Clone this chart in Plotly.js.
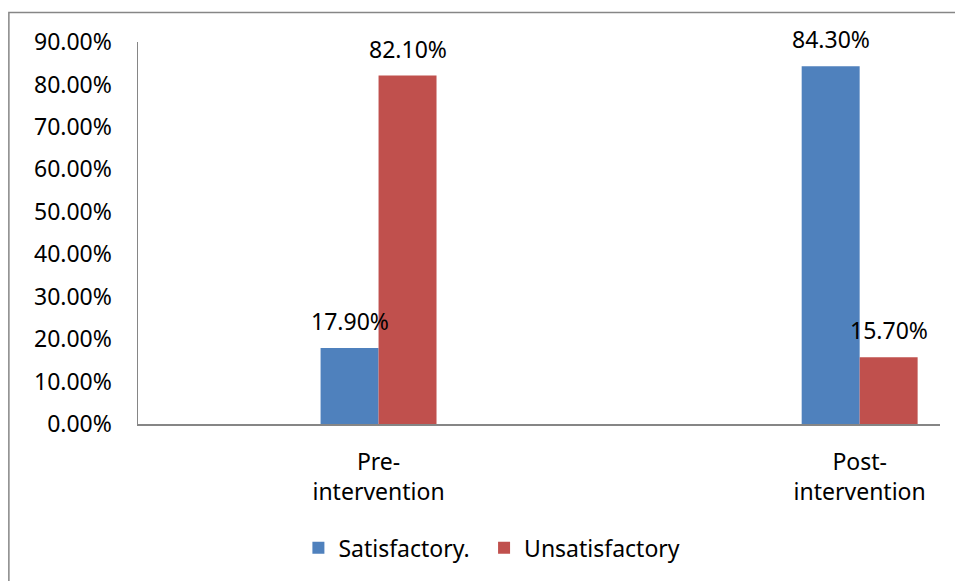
<!DOCTYPE html>
<html>
<head>
<meta charset="utf-8">
<script src="https://cdn.plot.ly/plotly-3.0.1.min.js"></script>
<style>html,body{margin:0;padding:0;background:#fff;}#chart{width:955px;height:581px;}</style>
</head>
<body>
<div id="chart"></div>
<script>
const categories = ["Pre-intervention", "Post-intervention"];
const tickLabels = ["Pre-<br>intervention", "Post-<br>intervention"];
const seriesNames = ["Satisfactory.", "Unsatisfactory"];
const satisfactory = [0.179, 0.843];
const unsatisfactory = [0.821, 0.157];
const colors = ["#4F81BD", "#C0504D"];

const font = "Noto Sans, Open Sans, sans-serif";
const FS = 23;
const series = [satisfactory, unsatisfactory];
const legendIds = ["legend", "legend2"];

const traces = series.map((vals, i) => ({
  type: "bar", name: seriesNames[i], x: categories, y: vals,
  marker: {color: colors[i]}, hoverinfo: "skip", legend: legendIds[i]
}));

const annotations = [];
series.forEach((vals, i) => {
  vals.forEach((v, j) => {
    annotations.push({
      x: categories[j], y: v, xref: "x", yref: "y",
      text: (v * 100).toFixed(2) + "%", showarrow: false,
      xshift: (i - 0.5) * 58, yshift: 27, yanchor: "middle", xanchor: "center",
      font: {size: FS, family: font, color: "#000"}
    });
  });
});

const legendBase = {orientation: "h", y: -0.324, yanchor: "middle", xanchor: "left",
                    font: {size: FS, family: font}, itemwidth: 30, bgcolor: "rgba(0,0,0,0)"};

const layout = {
  width: 955, height: 581,
  margin: {l: 138, r: 15, t: 41.5, b: 157},
  paper_bgcolor: "#fff", plot_bgcolor: "#fff",
  font: {family: font, size: FS, color: "#000"},
  barmode: "group", bargap: 0.759, bargroupgap: 0,
  showlegend: true,
  legend: Object.assign({}, legendBase, {x: 0.2}),
  legend2: Object.assign({}, legendBase, {x: 0.4315}),
  xaxis: {type: "category", range: [-0.5, 1.167], tickvals: categories, ticktext: tickLabels,
          showline: true, linecolor: "#868686", linewidth: 1.5, ticks: "", showgrid: false,
          zeroline: false, ticklabelstandoff: 17, fixedrange: true},
  yaxis: {range: [0, 0.9], dtick: 0.1, tick0: 0, tickformat: ".2%", showline: true,
          linecolor: "#868686", linewidth: 1.5, ticks: "", showgrid: false, zeroline: false,
          ticklabelstandoff: 20, fixedrange: true},
  annotations: annotations,
  shapes: [{type: "rect", xref: "paper", yref: "paper", x0: -0.161, x1: 1.2, y0: -0.6, y1: 1.077,
            line: {color: "#868686", width: 1.5}, fillcolor: "rgba(0,0,0,0)", layer: "below"}]
};

Plotly.newPlot("chart", traces, layout, {displayModeBar: false, staticPlot: true});
</script>
</body>
</html>
